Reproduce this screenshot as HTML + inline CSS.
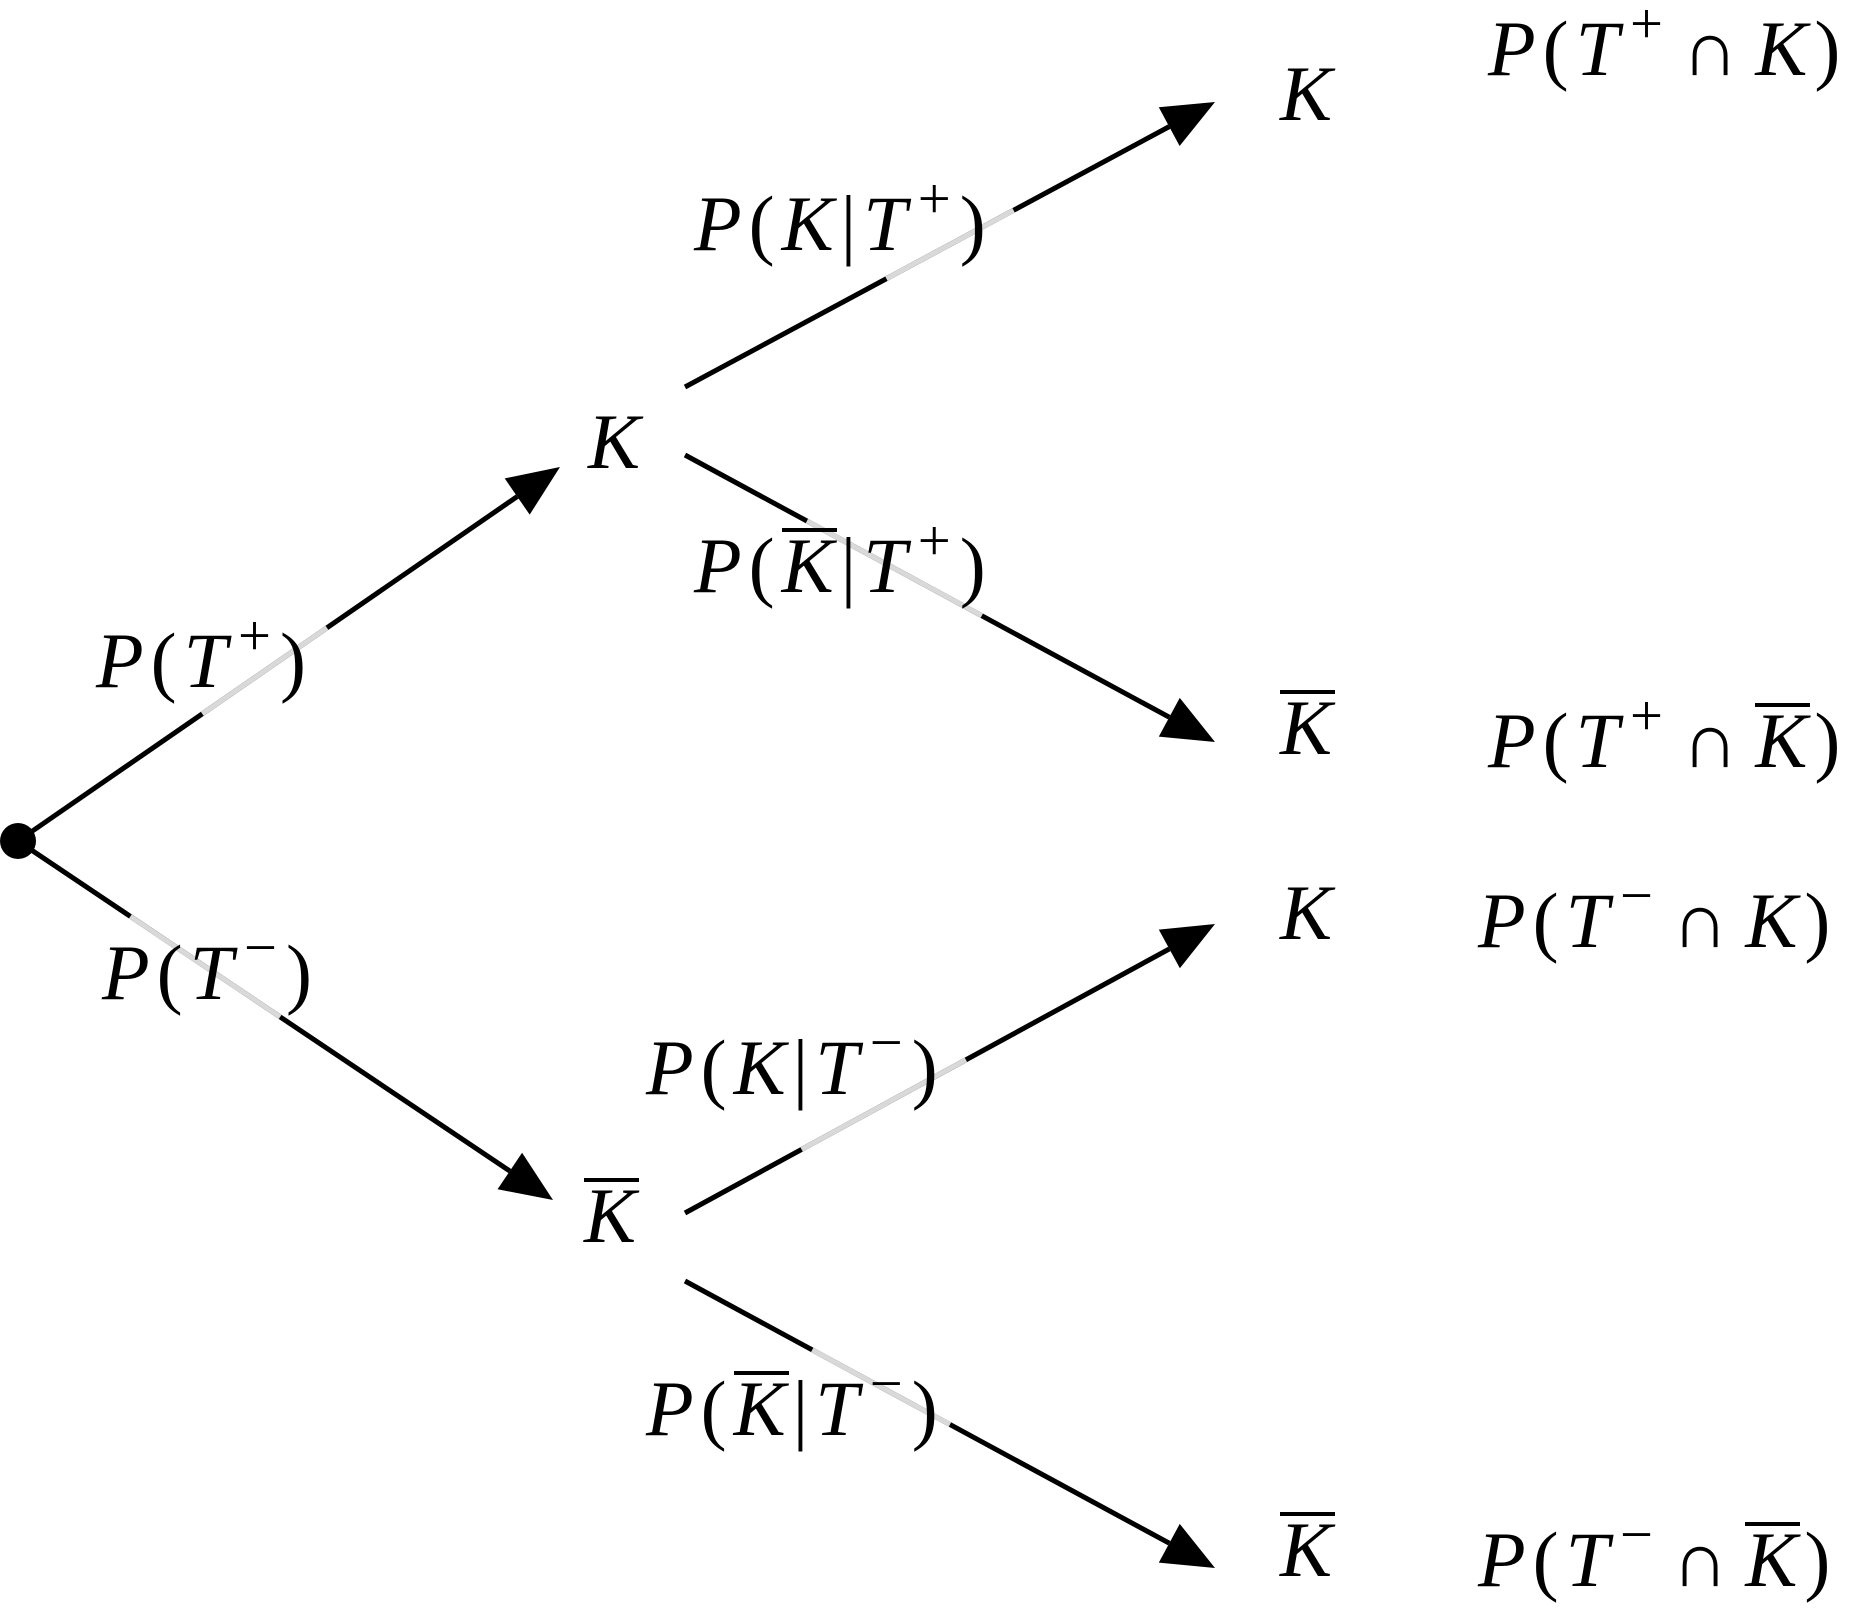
<!DOCTYPE html>
<html><head><meta charset="utf-8">
<style>
html,body{margin:0;padding:0;background:#fff;}
#wrap{position:relative;width:1867px;height:1609px;overflow:hidden;background:#fff;}
svg{position:absolute;left:0;top:0;}
.lbl{position:absolute;font-family:"Liberation Serif",serif;font-style:italic;font-size:78px;line-height:1;white-space:nowrap;color:#000;letter-spacing:3px;}
.pr{font-style:normal;margin:0 4px;}
.ov{display:inline-block;border-top:4px solid #000;line-height:0.82;padding-top:2px;}
sup{font-size:0.75em;vertical-align:0.55em;line-height:0;font-style:normal;margin-left:8px;margin-right:2px;}
.cap{font-style:normal;margin:0 14px;}
</style></head>
<body>
<div id="wrap">
<svg id="svg" width="1867" height="1609">
<circle cx="18" cy="841" r="18" fill="#000"/>
</svg>

<div class="lbl" style="left:96px;top:622px">P<span class="pr">(</span>T<sup>+</sup><span class="pr">)</span></div>
<div class="lbl" style="left:102px;top:934px">P<span class="pr">(</span>T<sup>−</sup><span class="pr">)</span></div>
<div class="lbl" style="left:694px;top:185px">P<span class="pr">(</span>K<span class="pr">|</span>T<sup>+</sup><span class="pr">)</span></div>
<div class="lbl" style="left:694px;top:527px">P<span class="pr">(</span><span class="ov">K</span><span class="pr">|</span>T<sup>+</sup><span class="pr">)</span></div>
<div class="lbl" style="left:646px;top:1029px">P<span class="pr">(</span>K<span class="pr">|</span>T<sup>−</sup><span class="pr">)</span></div>
<div class="lbl" style="left:646px;top:1370px">P<span class="pr">(</span><span class="ov">K</span><span class="pr">|</span>T<sup>−</sup><span class="pr">)</span></div>

<div class="lbl" style="left:588px;top:403px">K</div>
<div class="lbl" style="left:584px;top:1177px"><span class="ov">K</span></div>

<div class="lbl" style="left:1280px;top:55px">K</div>
<div class="lbl" style="left:1280px;top:689px"><span class="ov">K</span></div>
<div class="lbl" style="left:1280px;top:874px">K</div>
<div class="lbl" style="left:1280px;top:1511px"><span class="ov">K</span></div>

<div class="lbl" style="left:1488px;top:10px">P<span class="pr">(</span>T<sup>+</sup><span class="cap">∩</span>K<span class="pr">)</span></div>
<div class="lbl" style="left:1488px;top:702px">P<span class="pr">(</span>T<sup>+</sup><span class="cap">∩</span><span class="ov">K</span><span class="pr">)</span></div>
<div class="lbl" style="left:1478px;top:882px">P<span class="pr">(</span>T<sup>−</sup><span class="cap">∩</span>K<span class="pr">)</span></div>
<div class="lbl" style="left:1478px;top:1521px">P<span class="pr">(</span>T<sup>−</sup><span class="cap">∩</span><span class="ov">K</span><span class="pr">)</span></div>
</div>
<script>
const edgeNames=["edge-root-k","edge-root-kbar","edge-k-k","edge-k-kbar","edge-kbar-k","edge-kbar-kbar"];
const edgeFrom=[[18,841],[18,841],[685,387],[685,455],[685,1213],[685,1281]];
const edgeTo=[[560,467],[553,1200],[1215,102],[1215,742],[1215,924],[1215,1568]];
const grayT=[[0.34,0.57],[0.21,0.49],[0.38,0.62],[0.23,0.56],[0.22,0.53],[0.24,0.50]];
const svg=document.getElementById('svg');
const NS='http://www.w3.org/2000/svg';
for(let i=0;i<edgeFrom.length;i++){
  const [x1,y1]=edgeFrom[i],[x2,y2]=edgeTo[i];
  const dx=x2-x1,dy=y2-y1,L=Math.hypot(dx,dy),ux=dx/L,uy=dy/L;
  const ah=52,aw=22;
  const bx=x2-ux*ah,by=y2-uy*ah;
  const ln=document.createElementNS(NS,'line');
  
  
  ln.setAttribute('x1',x1);ln.setAttribute('y1',y1);ln.setAttribute('x2',bx);ln.setAttribute('y2',by);
  ln.setAttribute('stroke','#000');ln.setAttribute('stroke-width','5');
  svg.appendChild(ln);
  const [a,b]=grayT[i];
  const g=document.createElementNS(NS,'line');
  
  
  g.setAttribute('x1',x1+dx*a);g.setAttribute('y1',y1+dy*a);g.setAttribute('x2',x1+dx*b);g.setAttribute('y2',y1+dy*b);
  g.setAttribute('stroke','#d9d9d9');g.setAttribute('stroke-width','5');
  svg.appendChild(g);
  const p=document.createElementNS(NS,'polygon');
  
  
  const px=-uy,py=ux;
  p.setAttribute('points',`${x2},${y2} ${bx+px*aw},${by+py*aw} ${bx-px*aw},${by-py*aw}`);
  p.setAttribute('fill','#000');
  svg.appendChild(p);
}
</script>
</body></html>
